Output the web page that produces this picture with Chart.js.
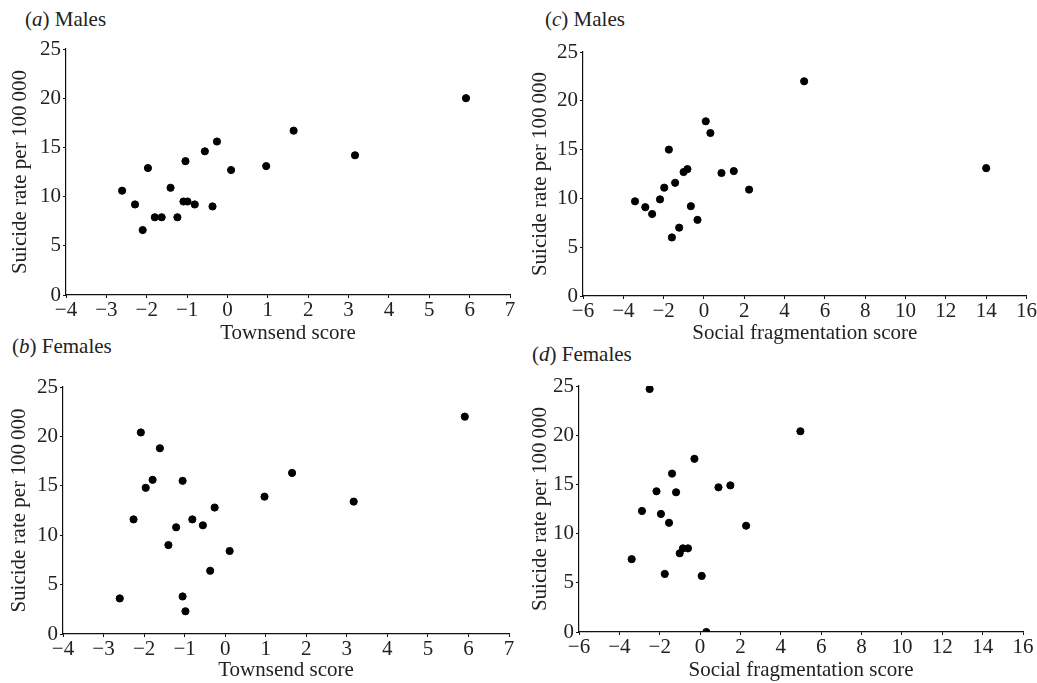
<!DOCTYPE html>
<html>
<head>
<meta charset="utf-8">
<script src="https://cdn.jsdelivr.net/npm/chart.js@4.4.1/dist/chart.umd.min.js"></script>
<style>
  body { margin: 0; background: #fff; }
  #page { position: relative; width: 1037px; height: 683px; overflow: hidden; }
  canvas { position: absolute; }
  .ptitle { position: absolute; font-family: "Liberation Serif", serif; font-size: 21px; line-height: 21px; color: #222; white-space: nowrap; }
</style>
</head>
<body>
<div id="page">
  <div class="ptitle" style="left:25px; top:9px">(<i>a</i>) Males</div>
  <div class="ptitle" style="left:12px; top:336px">(<i>b</i>) Females</div>
  <div class="ptitle" style="left:545px; top:9px">(<i>c</i>) Males</div>
  <div class="ptitle" style="left:532px; top:344px">(<i>d</i>) Females</div>
</div>
<script>
// (a) males, Townsend score
const townsendMalesX = [-2.61, -2.29, -2.10, -1.97, -1.80, -1.63, -1.41, -1.24, -1.09, -0.99, -1.04, -0.81, -0.56, -0.37, -0.26, 0.09, 0.96, 1.64, 3.16, 5.91]
const townsendMalesY = [10.6, 9.2, 6.6, 12.9, 7.9, 7.9, 10.9, 7.9, 9.5, 9.5, 13.6, 9.2, 14.6, 9.0, 15.6, 12.7, 13.1, 16.7, 14.2, 20.0]

// (b) females, Townsend score
const townsendFemalesX = [-2.60, -2.26, -2.08, -1.96, -1.79, -1.61, -1.40, -1.21, -1.05, -1.05, -0.98, -0.81, -0.55, -0.37, -0.26, 0.11, 0.97, 1.65, 3.17, 5.91]
const townsendFemalesY = [3.6, 11.6, 20.4, 14.8, 15.6, 18.8, 9.0, 10.8, 15.5, 3.8, 2.3, 11.6, 11.0, 6.4, 12.8, 8.4, 13.9, 16.3, 13.4, 22.0]

// (c) males, social fragmentation score
const fragMalesX = [-3.42, -2.91, -2.57, -2.18, -1.97, -1.74, -1.59, -1.43, -1.23, -1.01, -0.82, -0.65, -0.32, 0.09, 0.32, 0.87, 1.48, 2.24, 4.97, 14.0]
const fragMalesY = [9.7, 9.1, 8.4, 9.9, 11.1, 15.0, 6.0, 11.6, 7.0, 12.7, 13.0, 9.2, 7.8, 17.9, 16.7, 12.6, 12.8, 10.9, 22.0, 13.1]

// (d) females, social fragmentation score
const fragFemalesX = [-3.39, -2.88, -2.50, -2.16, -1.94, -1.75, -1.54, -1.39, -1.19, -1.01, -0.85, -0.60, -0.28, 0.08, 0.31, 0.91, 1.50, 2.28, 4.97]
const fragFemalesY = [7.4, 12.3, 24.7, 14.3, 12.0, 5.9, 11.1, 16.1, 14.2, 8.0, 8.5, 8.5, 17.6, 5.7, 0.0, 14.7, 14.9, 10.8, 20.4]

const townsendTicks = [-4, 7, 1]   // min, max, step
const fragTicks = [-6, 16, 2]
const rateTicks = [0, 25, 5]

const rateTitle = 'Suicide rate per 100\u2009000'
const FONT = '"Liberation Serif", serif'
const SIZE = 21
const INK = '#222'

// page-pixel boxes for each plot area, plus where the axis titles sit
const panels = [
    { xs: townsendMalesX, ys: townsendMalesY, xt: townsendTicks, xTitle: 'Townsend score',
      area: { l: 66, r: 510, t: 49, b: 295 }, yTitleX: 21, xTitleY: 333, right: 525 },
    { xs: townsendFemalesX, ys: townsendFemalesY, xt: townsendTicks, xTitle: 'Townsend score',
      area: { l: 63, r: 509, t: 387, b: 634 }, yTitleX: 20, xTitleY: 670, right: 524 },
    { xs: fragMalesX, ys: fragMalesY, xt: fragTicks, xTitle: 'Social fragmentation score',
      area: { l: 583, r: 1027, t: 52, b: 296 }, yTitleX: 541, xTitleY: 333, right: 1037 },
    { xs: fragFemalesX, ys: fragFemalesY, xt: fragTicks, xTitle: 'Social fragmentation score',
      area: { l: 579, r: 1023, t: 386, b: 632 }, yTitleX: 541, xTitleY: 670, right: 1037 }
]

const minus = v => String(v).replace('-', '\u2212')

const makePanel = (p) => {
    const half = SIZE * 0.6 // half line height of the title text
    const left = Math.round(p.yTitleX - half)
    const top = p.area.t - 22
    const xAxisH = Math.round(p.xTitleY + half - p.area.b)
    const bottom = p.area.b + xAxisH + 1
    const yAxisW = p.area.l - left

    let canvas = document.createElement('canvas')
    canvas.width = p.right - left
    canvas.height = bottom - top
    canvas.style.left = left + 'px'
    canvas.style.top = top + 'px'
    canvas.style.width = canvas.width + 'px'
    canvas.style.height = canvas.height + 'px'
    document.getElementById('page').appendChild(canvas)

    const points = p.xs.map((x, i) => ({ x: x, y: p.ys[i] }))

    return new Chart(canvas, {
        type: 'scatter',
        data: {
            datasets: [{
                data: points,
                backgroundColor: '#000',
                borderColor: '#000',
                pointRadius: 3.6,
                pointHoverRadius: 3.6
            }]
        },
        options: {
            responsive: false,
            animation: false,
            layout: { padding: { left: 0, top: 22, right: p.right - p.area.r, bottom: 1 } },
            plugins: { legend: { display: false }, tooltip: { enabled: false } },
            scales: {
                x: {
                    type: 'linear',
                    min: p.xt[0], max: p.xt[1],
                    afterFit: (scale) => { scale.height = xAxisH },
                    border: { color: '#111', width: 1.2 },
                    grid: { drawOnChartArea: false, drawTicks: true, tickLength: 3, color: '#111' },
                    ticks: { stepSize: p.xt[2], padding: 0, color: INK, maxRotation: 0,
                             font: { family: FONT, size: SIZE }, callback: minus },
                    title: { display: true, text: p.xTitle, color: INK, padding: 0,
                             font: { family: FONT, size: SIZE } }
                },
                y: {
                    type: 'linear',
                    min: rateTicks[0], max: rateTicks[1],
                    afterFit: (scale) => { scale.width = yAxisW },
                    border: { color: '#111', width: 1.2 },
                    grid: { drawOnChartArea: false, drawTicks: true, tickLength: 3, color: '#111' },
                    ticks: { stepSize: rateTicks[2], padding: 2, color: INK,
                             font: { family: FONT, size: SIZE } },
                    title: { display: true, text: rateTitle, color: INK, padding: 0,
                             font: { family: FONT, size: SIZE } }
                }
            }
        }
    })
}

panels.forEach(makePanel)
</script>
</body>
</html>
